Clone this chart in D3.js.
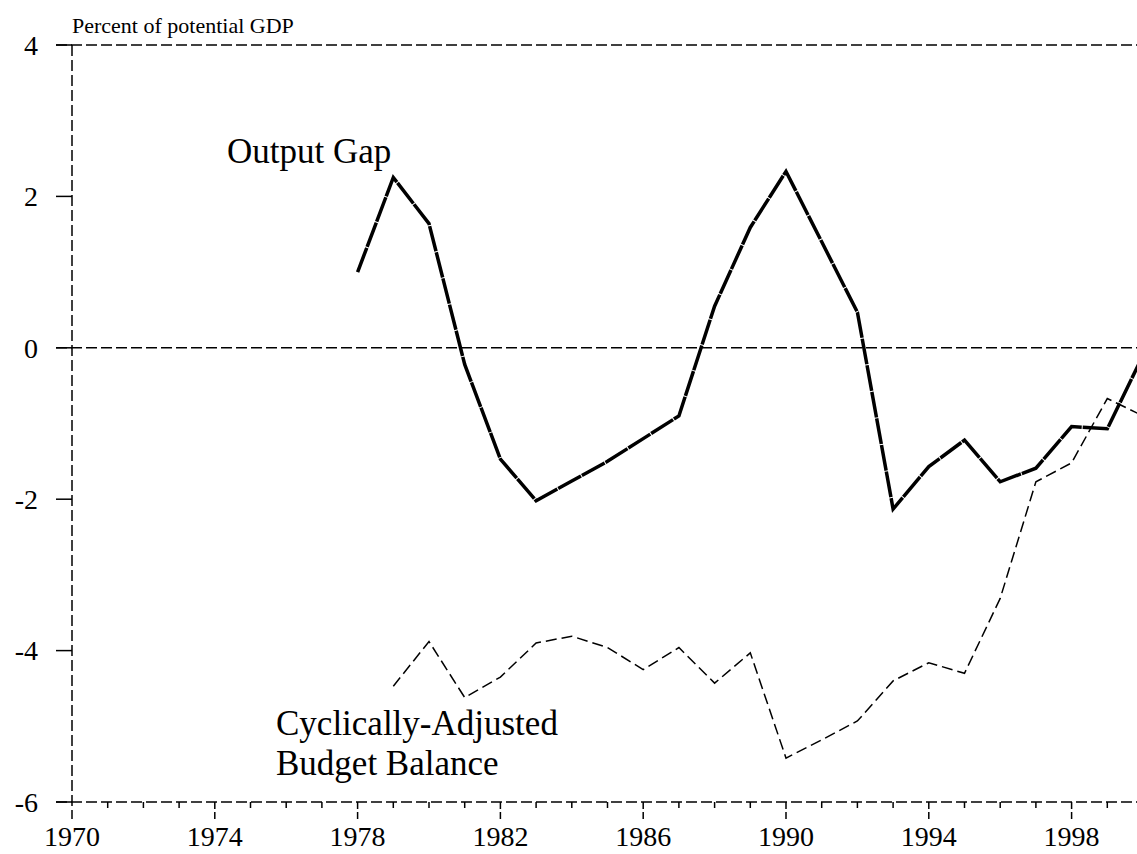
<!DOCTYPE html>
<html>
<head>
<meta charset="utf-8">
<script src="https://cdn.jsdelivr.net/npm/d3@7"></script>
<style>
  html, body { margin: 0; padding: 0; background: #fff; overflow: hidden; }
  svg text { font-family: "Liberation Serif", "Times New Roman", serif; fill: #000; }
</style>
</head>
<body>
<svg id="chart" width="1137" height="854"></svg>
<script>
// data
const gapYears = d3.range(1978, 2001);
const outputGap = [1.0, 2.25, 1.64, -0.22, -1.47, -2.02, -1.76, -1.5, -1.2, -0.9, 0.55, 1.59,
  2.33, 1.4, 0.47, -2.13, -1.57, -1.22, -1.77, -1.59, -1.04, -1.07, -0.1];
const balanceYears = d3.range(1979, 2001);
const budgetBalance = [-4.47, -3.88, -4.62, -4.35, -3.9, -3.81, -3.96, -4.25, -3.96, -4.43, -4.03,
  -5.42, -5.18, -4.93, -4.4, -4.16, -4.3, -3.31, -1.77, -1.52, -0.67, -0.9];
const yTicks = [4, 2, 0, -2, -4, -6];
const xLabelYears = [1970, 1974, 1978, 1982, 1986, 1990, 1994, 1998];

const svg = d3.select("#chart");
const x = d3.scaleLinear().domain([1970, 2000]).range([72, 1143]);
const y = d3.scaleLinear().domain([-6, 4]).range([802, 45]);
const dash = "11,4";

// full-width dashed rules at 4, 0 and -6
[4, 0, -6].forEach(v => {
  svg.append("line")
    .attr("x1", 56).attr("x2", 1137)
    .attr("y1", y(v)).attr("y2", y(v))
    .attr("stroke", "#000").attr("stroke-width", 1.5)
    .attr("stroke-dasharray", dash);
});

// left axis
svg.append("line")
  .attr("x1", x(1970)).attr("x2", x(1970))
  .attr("y1", y(4)).attr("y2", y(-6) + 17)
  .attr("stroke", "#000").attr("stroke-width", 1.5)
  .attr("stroke-dasharray", dash);

// y ticks + labels
yTicks.forEach(v => {
  svg.append("line")
    .attr("x1", 56).attr("x2", x(1970))
    .attr("y1", y(v)).attr("y2", y(v))
    .attr("stroke", "#000").attr("stroke-width", 1.5);
  svg.append("text")
    .attr("x", 38).attr("y", y(v))
    .attr("dy", "0.35em")
    .attr("text-anchor", "end")
    .attr("font-size", 28)
    .text(v);
});

// x ticks: every year small, every 4th long
d3.range(1971, 2001).forEach(yr => {
  const major = (yr - 1970) % 4 === 0;
  svg.append("line")
    .attr("x1", x(yr)).attr("x2", x(yr))
    .attr("y1", y(-6)).attr("y2", y(-6) + (major ? 17 : 6))
    .attr("stroke", "#000").attr("stroke-width", 1.5)
    .attr("stroke-dasharray", major ? "7,3" : null);
});

xLabelYears.forEach(yr => {
  svg.append("text")
    .attr("x", x(yr)).attr("y", 846)
    .attr("text-anchor", "middle")
    .attr("font-size", 28)
    .text(yr);
});

svg.append("text")
  .attr("x", 72).attr("y", 33)
  .attr("font-size", 22)
  .text("Percent of potential GDP");

// series
const line = d3.line().x(d => x(d[0])).y(d => y(d[1]));

svg.append("path")
  .datum(balanceYears.map((yr, i) => [yr, budgetBalance[i]]))
  .attr("d", line)
  .attr("fill", "none")
  .attr("stroke", "#000").attr("stroke-width", 1.5)
  .attr("stroke-dasharray", "11,5");

svg.append("path")
  .datum(gapYears.map((yr, i) => [yr, outputGap[i]]))
  .attr("d", line)
  .attr("fill", "none")
  .attr("stroke", "#000").attr("stroke-width", 3.5)
  .attr("stroke-linejoin", "miter")
  .attr("stroke-dasharray", "26,1");

// series labels
svg.append("text")
  .attr("x", 227).attr("y", 163)
  .attr("font-size", 35)
  .text("Output Gap");

svg.append("text")
  .attr("x", 276).attr("y", 735)
  .attr("font-size", 35)
  .text("Cyclically-Adjusted");
svg.append("text")
  .attr("x", 276).attr("y", 775)
  .attr("font-size", 35)
  .text("Budget Balance");
</script>
</body>
</html>
